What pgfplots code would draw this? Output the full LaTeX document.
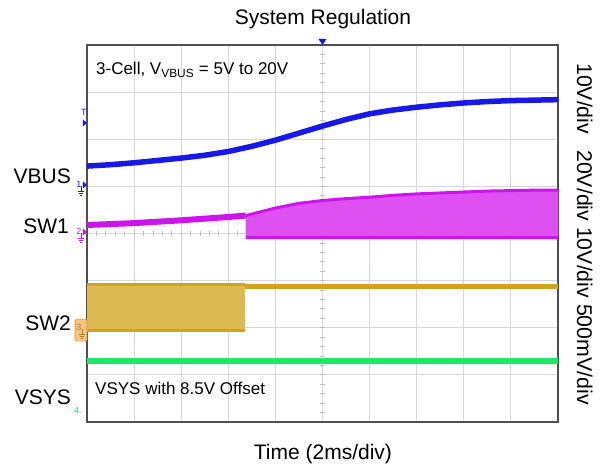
\documentclass[border=0pt]{standalone}
\usepackage{pgfplots}
\pgfplotsset{compat=1.18}
\usepackage{fontspec}
\setmainfont{Liberation Sans}
\definecolor{vbus}{RGB}{24,24,232}
\definecolor{swonel}{RGB}{204,20,236}
\definecolor{swonef}{RGB}{222,80,242}
\definecolor{swtwol}{RGB}{212,162,28}
\definecolor{swtwof}{RGB}{222,186,82}
\definecolor{vsys}{RGB}{30,232,100}
\definecolor{gridc}{RGB}{216,216,216}
\definecolor{framec}{RGB}{80,80,80}
\definecolor{tickc}{RGB}{190,190,190}
\definecolor{boxf}{RGB}{248,196,130}
\definecolor{boxd}{RGB}{226,150,70}
\pgfplotstableread{
x y
0 5.43
0.5 5.46
1 5.50
1.5 5.55
2 5.60
2.5 5.66
3 5.74
3.5 5.85
4 5.98
4.5 6.13
5 6.28
5.5 6.42
6 6.54
6.5 6.62
7 6.68
7.5 6.73
8 6.77
8.5 6.80
9 6.82
9.5 6.83
10 6.84
}\vbusdata
\pgfplotstableread{
x y
0 4.18
1 4.22
2 4.28
3 4.35
3.37 4.38
}\swonepre
\pgfplotstableread{
x y
3.37 4.38
4 4.54
4.5 4.64
5 4.70
5.5 4.74
6 4.77
6.5 4.81
7 4.84
7.5 4.86
8 4.88
8.5 4.90
9 4.91
9.5 4.92
10 4.92
}\swoneup
\begin{document}
\begin{tikzpicture}
\begin{axis}[
  scale only axis, width=471bp, height=377bp,
  xmin=0, xmax=10, ymin=0, ymax=8,
  xtick={1,...,9}, ytick={1,...,7},
  xticklabels={}, yticklabels={},
  major tick length=0pt,
  grid=major, grid style={draw=gridc, line width=1bp},
  axis line style={draw=framec, line width=1.3bp},
  clip=false,
]
% bounding box
\path (rel axis cs:-0.18471,-0.12732) rectangle (rel axis cs:1.10403,1.11936);
% minor ticks on centre lines
\pgfplotsinvokeforeach{1,...,39}{
  \draw[tickc, line width=0.8bp] ([xshift=-2.5bp]axis cs:5,{#1/5}) -- ([xshift=2.5bp]axis cs:5,{#1/5});
}
\pgfplotsinvokeforeach{1,...,49}{
  \draw[tickc, line width=0.8bp] ([yshift=-2.5bp]axis cs:{#1/5},4) -- ([yshift=2.5bp]axis cs:{#1/5},4);
}
% SW2 band and line
\addplot[draw=none, fill=swtwof] coordinates {(0,1.91) (0,2.95) (3.36,2.95) (3.36,1.91)} -- cycle;
\addplot[swtwol, line width=3bp] coordinates {(0,1.94) (3.36,1.94)};
\addplot[swtwol, line width=3.5bp] coordinates {(0,2.92) (3.36,2.92)};
\addplot[swtwol, line width=4.5bp] coordinates {(3.36,2.87) (10,2.87)};
% VSYS
\addplot[vsys, line width=6bp] coordinates {(0,1.29) (10,1.29)};
% SW1
\addplot[draw=none, fill=swonef] table {\swoneup} -- (axis cs:10,3.88) -- (axis cs:3.37,3.88) -- cycle;
\addplot[swonel, line width=2.5bp] coordinates {(3.37,3.91) (10,3.91)};
\addplot[swonel, line width=3bp] table {\swoneup};
\addplot[swonel, line width=6bp] table {\swonepre};
% VBUS
\addplot[vbus, line width=5.5bp] table {\vbusdata};
% texts
\node[font=\fontsize{21bp}{25bp}\selectfont] at (axis cs:5.01,8.55) {System Regulation};
\node[font=\fontsize{21bp}{25bp}\selectfont] at (axis cs:5.01,-0.67) {Time (2ms/div)};
\node[anchor=west, inner sep=0pt, font=\fontsize{17bp}{20bp}\selectfont] at (axis cs:0.19,7.47) {3-Cell, V\textsubscript{VBUS} = 5V to 20V};
\node[anchor=west, inner sep=0pt, font=\fontsize{17bp}{20bp}\selectfont] at (axis cs:0.17,0.72) {VSYS with 8.5V Offset};
\node[anchor=east, inner sep=0pt, font=\fontsize{21bp}{25bp}\selectfont] at (axis cs:-0.34,5.22) {VBUS};
\node[anchor=east, inner sep=0pt, font=\fontsize{21bp}{25bp}\selectfont] at (axis cs:-0.38,4.16) {SW1};
\node[anchor=east, inner sep=0pt, font=\fontsize{21bp}{25bp}\selectfont] at (axis cs:-0.34,2.10) {SW2};
\node[anchor=east, inner sep=0pt, font=\fontsize{21bp}{25bp}\selectfont] at (axis cs:-0.34,0.53) {VSYS};
\node[rotate=-90, inner sep=0pt, font=\fontsize{21.3bp}{25bp}\selectfont] at (axis cs:10.57,3.99) {10V/div\hspace{16bp}20V/div 10V/div 500mV/div};
% trigger markers
\fill[vbus] ([shift={(-4bp,6bp)}]axis cs:5,8) -- ++(8bp,0) -- ++(-4bp,-6bp) -- cycle;
\fill[vbus] ([shift={(-4bp,3.5bp)}]axis cs:0,6.345) -- ++(4bp,-3.5bp) -- ++(-4bp,-3.5bp) -- cycle;
\node[vbus, inner sep=0pt, font=\fontsize{9bp}{10bp}\selectfont] at ([shift={(-3bp,0bp)}]axis cs:0,6.56) {T};
% channel markers
\fill[vbus] ([shift={(-4bp,3.5bp)}]axis cs:0,5.03) -- ++(4bp,-3.5bp) -- ++(-4bp,-3.5bp) -- cycle;
\node[vbus, inner sep=0pt, font=\fontsize{9bp}{10bp}\selectfont] at ([shift={(-8bp,0.5bp)}]axis cs:0,5.03) {1};
\draw[vbus, line width=0.6bp] ([shift={(-6bp,-1bp)}]axis cs:0,5.03) -- ++(0,-5bp) ++(-3bp,0) -- ++(6bp,0) ++(-5bp,-2bp) -- ++(4bp,0) ++(-3bp,-2bp) -- ++(2bp,0);
\fill[swonel] ([shift={(-4bp,3.5bp)}]axis cs:0,4.03) -- ++(4bp,-3.5bp) -- ++(-4bp,-3.5bp) -- cycle;
\node[swonel, inner sep=0pt, font=\fontsize{9bp}{10bp}\selectfont] at ([shift={(-8bp,0.5bp)}]axis cs:0,4.03) {2};
\draw[swonel, line width=0.6bp] ([shift={(-6bp,-1bp)}]axis cs:0,4.03) -- ++(0,-5bp) ++(-3bp,0) -- ++(6bp,0) ++(-5bp,-2bp) -- ++(4bp,0) ++(-3bp,-2bp) -- ++(2bp,0);
\filldraw[fill=boxf, draw=boxd, line width=0.6bp, rounded corners=1.5bp] ([shift={(-12bp,-11bp)}]axis cs:0,1.95) rectangle ([shift={(0bp,11bp)}]axis cs:0,1.95);
\node[boxd!80!black, inner sep=0pt, font=\fontsize{9bp}{10bp}\selectfont] at ([shift={(-8bp,3bp)}]axis cs:0,1.95) {3};
\draw[boxd!80!black, line width=0.6bp] ([shift={(-5bp,1bp)}]axis cs:0,1.95) -- ++(0,-5bp) ++(-3bp,0) -- ++(6bp,0) ++(-5bp,-2bp) -- ++(4bp,0) ++(-3bp,-2bp) -- ++(2bp,0);
\node[vsys, inner sep=0pt, font=\fontsize{9bp}{10bp}\selectfont] at ([shift={(-9bp,0bp)}]axis cs:0,0.25) {4.};
\end{axis}
\end{tikzpicture}
\end{document}
